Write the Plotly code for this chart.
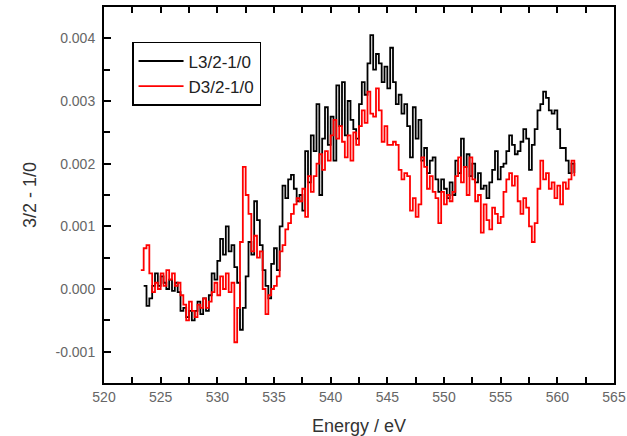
import plotly.graph_objects as go

# Energy grid (eV): start and step of each sampled series
l_start, d_start, step = 523.5, 523.25, 0.25

# L3/2-1/0 (black)
l_vals = [
    0.05e-3, -0.27e-3, -0.15e-3, 0.05e-3, 0.25e-3, 0.05e-3, 0.20e-3, 0.10e-3, 0.00e-3, 0.15e-3,
    -0.03e-3, 0.10e-3, -0.05e-3, -0.35e-3, -0.30e-3, -0.45e-3, -0.35e-3, -0.50e-3, -0.35e-3, -0.20e-3,
    -0.40e-3, -0.15e-3, -0.35e-3, -0.10e-3, 0.25e-3, 0.15e-3, 0.45e-3, 0.80e-3, 0.55e-3, 1.00e-3,
    0.60e-3, 0.70e-3, 0.35e-3, 0.10e-3, -0.65e-3, -0.30e-3, 0.20e-3, 0.75e-3, 0.55e-3, 1.40e-3,
    1.10e-3, 0.70e-3, 0.30e-3, 0.05e-3, -0.15e-3, 0.40e-3, 0.65e-3, 0.30e-3, 1.00e-3, 1.65e-3,
    1.45e-3, 1.75e-3, 1.82e-3, 1.60e-3, 1.40e-3, 1.50e-3, 1.25e-3, 2.20e-3, 1.70e-3, 2.45e-3,
    2.20e-3, 2.95e-3, 1.50e-3, 2.40e-3, 2.90e-3, 2.30e-3, 2.75e-3, 2.05e-3, 3.25e-3, 2.60e-3,
    3.30e-3, 2.45e-3, 3.00e-3, 2.70e-3, 2.55e-3, 2.40e-3, 2.95e-3, 3.30e-3, 3.10e-3, 3.60e-3,
    4.05e-3, 3.50e-3, 3.75e-3, 3.60e-3, 3.30e-3, 3.55e-3, 3.20e-3, 3.85e-3, 3.30e-3, 2.95e-3,
    3.10e-3, 2.80e-3, 2.95e-3, 2.60e-3, 2.10e-3, 2.90e-3, 2.40e-3, 2.70e-3, 2.05e-3, 2.25e-3,
    1.85e-3, 2.05e-3, 2.10e-3, 1.75e-3, 1.55e-3, 1.75e-3, 1.60e-3, 1.45e-3, 1.70e-3, 1.50e-3,
    2.05e-3, 1.85e-3, 2.40e-3, 1.95e-3, 2.15e-3, 1.80e-3, 2.00e-3, 1.70e-3, 1.85e-3, 1.60e-3,
    1.65e-3, 1.45e-3, 1.70e-3, 1.90e-3, 2.20e-3, 1.75e-3, 1.95e-3, 2.00e-3, 2.20e-3, 2.45e-3,
    2.30e-3, 2.15e-3, 2.20e-3, 2.35e-3, 2.55e-3, 2.40e-3, 1.90e-3, 2.30e-3, 2.55e-3, 2.85e-3,
    2.95e-3, 3.15e-3, 3.05e-3, 2.85e-3, 2.80e-3, 2.85e-3, 2.55e-3, 2.25e-3, 2.25e-3, 2.05e-3,
    1.85e-3, 2.00e-3, 1.85e-3,
]

# D3/2-1/0 (red)
d_vals = [
    0.30e-3, 0.65e-3, 0.70e-3, 0.25e-3, -0.05e-3, 0.10e-3, 0.00e-3, 0.25e-3, 0.05e-3, 0.30e-3,
    0.15e-3, 0.25e-3, 0.05e-3, 0.10e-3, -0.10e-3, -0.25e-3, -0.50e-3, -0.20e-3, -0.35e-3, -0.45e-3,
    -0.25e-3, -0.30e-3, -0.15e-3, -0.30e-3, -0.20e-3, -0.05e-3, 0.10e-3, -0.10e-3, 0.20e-3, 0.00e-3,
    0.25e-3, -0.05e-3, 0.10e-3, -0.85e-3, -0.30e-3, 0.75e-3, 1.95e-3, 1.50e-3, 1.20e-3, 0.60e-3,
    0.85e-3, 0.50e-3, 0.60e-3, 0.00e-3, -0.40e-3, -0.10e-3, 0.00e-3, 0.05e-3, 0.20e-3, 0.60e-3,
    0.70e-3, 0.95e-3, 1.05e-3, 1.20e-3, 1.35e-3, 1.45e-3, 1.40e-3, 1.60e-3, 1.15e-3, 1.80e-3,
    1.55e-3, 1.80e-3, 2.00e-3, 2.15e-3, 1.90e-3, 2.20e-3, 2.05e-3, 2.45e-3, 2.70e-3, 2.40e-3,
    2.60e-3, 2.35e-3, 2.10e-3, 2.45e-3, 2.05e-3, 2.50e-3, 2.30e-3, 2.60e-3, 2.85e-3, 2.65e-3,
    3.15e-3, 2.80e-3, 2.75e-3, 3.20e-3, 2.85e-3, 2.35e-3, 2.60e-3, 2.30e-3, 2.30e-3, 2.35e-3,
    2.30e-3, 1.90e-3, 1.75e-3, 1.85e-3, 1.80e-3, 1.25e-3, 1.45e-3, 1.15e-3, 1.35e-3, 2.10e-3,
    1.95e-3, 1.60e-3, 1.80e-3, 1.55e-3, 1.45e-3, 1.05e-3, 1.55e-3, 1.35e-3, 1.50e-3, 1.40e-3,
    1.55e-3, 1.80e-3, 2.10e-3, 1.70e-3, 1.95e-3, 1.50e-3, 2.10e-3, 1.75e-3, 1.40e-3, 1.50e-3,
    0.90e-3, 1.35e-3, 1.10e-3, 0.95e-3, 1.30e-3, 1.20e-3, 1.05e-3, 1.15e-3, 1.55e-3, 1.75e-3,
    1.85e-3, 1.65e-3, 1.80e-3, 1.40e-3, 1.20e-3, 1.45e-3, 1.30e-3, 1.00e-3, 0.75e-3, 1.05e-3,
    1.60e-3, 2.05e-3, 1.75e-3, 1.85e-3, 1.60e-3, 1.70e-3, 1.45e-3, 1.65e-3, 1.35e-3, 1.70e-3,
    1.60e-3, 1.75e-3, 2.05e-3, 1.80e-3,
]

series_names = ["L3/2-1/0", "D3/2-1/0"]
x_tick_vals = [520, 525, 530, 535, 540, 545, 550, 555, 560, 565]
y_tick_vals = [-0.001, 0.0, 0.001, 0.002, 0.003, 0.004]
y_tick_text = ["-0.001", "0.000", "0.001", "0.002", "0.003", "0.004"]

FONT = "Liberation Sans, Arial, sans-serif"

fig = go.Figure()
fig.add_trace(go.Scatter(y=l_vals, x0=l_start, dx=step, mode="lines", line_shape="hv",
                         line=dict(color="black", width=1.8), name=series_names[0]))
fig.add_trace(go.Scatter(y=d_vals, x0=d_start, dx=step, mode="lines", line_shape="hv",
                         line=dict(color="#ff0000", width=1.8), name=series_names[1]))

fig.update_layout(
    width=627, height=436,
    margin=dict(l=104, r=13, t=7, b=53),
    paper_bgcolor="white", plot_bgcolor="white",
    font=dict(family=FONT, color="#222"),
    legend=dict(x=0.055, y=0.907, xanchor="left", yanchor="top",
                bordercolor="black", borderwidth=1.5, bgcolor="white",
                font=dict(size=17, color="#222"), itemwidth=45,
                tracegroupgap=0),
    showlegend=True,
)
fig.update_xaxes(
    range=[520, 565], tickvals=x_tick_vals, ticks="inside", ticklen=6,
    tickwidth=1.5, tickcolor="black",
    minor=dict(dtick=2.5, tick0=520, ticks="inside", ticklen=6, tickwidth=1.5, tickcolor="black"),
    showline=True, linecolor="black", linewidth=2, mirror="ticks",
    showgrid=False, zeroline=False, automargin=False,
    tickfont=dict(size=14, color="#666"),
    title=dict(text="Energy / eV", font=dict(size=18, color="#333"), standoff=22),
)
fig.update_yaxes(
    range=[-0.0015, 0.0045], tickvals=y_tick_vals, ticktext=y_tick_text,
    ticks="inside", ticklen=7, tickwidth=1.5, tickcolor="black",
    minor=dict(dtick=0.0005, tick0=0, ticks="inside", ticklen=6, tickwidth=1.5, tickcolor="black"),
    showline=True, linecolor="black", linewidth=2, mirror=True,
    showgrid=False, zeroline=False,
    tickfont=dict(size=14, color="#666"),
    ticklabelstandoff=4,
    title=dict(text="3/2 - 1/0", font=dict(size=18, color="#333"), standoff=14),
)

fig.write_html("out.html")
